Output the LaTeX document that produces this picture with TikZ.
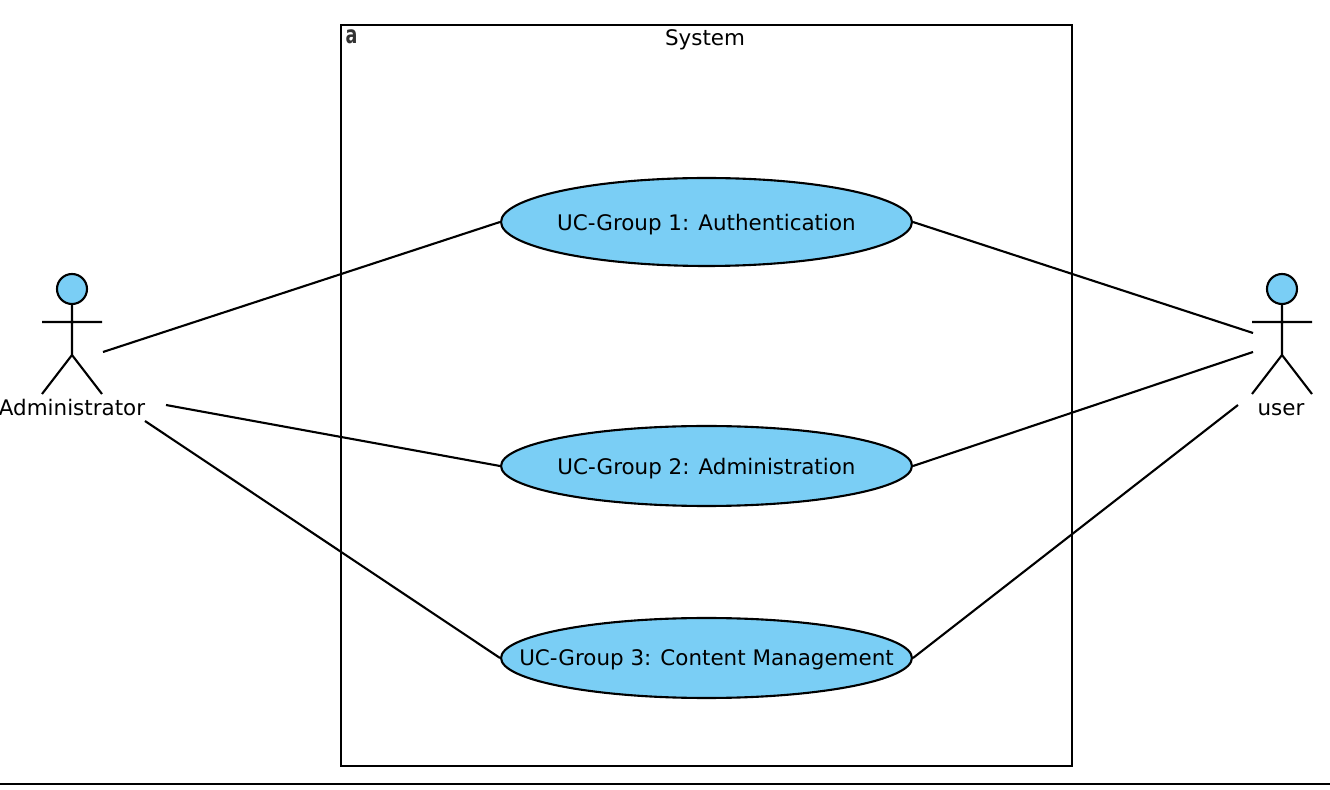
\documentclass[tikz,border=0pt]{standalone}
\usepackage{fontspec}
\setmainfont{DejaVu Sans}
\usetikzlibrary{shapes.geometric}
\definecolor{ucblue}{HTML}{7ACEF5}

\tikzset{
    actorname/.style={font=\fontsize{12.2}{14}\selectfont, inner sep=0pt},
    usecase/.style={actorname, draw, ellipse, fill=ucblue, inner xsep=-1cm, inner ysep=0pt, minimum width=8.22cm, text depth=0pt},
    umlline/.style={line width=1.2pt}
}

\begin{document}
\begin{tikzpicture}[x=0.02cm, y=-0.02cm, umlline]
        \useasboundingbox (0, 0) rectangle (1330, 790);

        \node[draw, minimum width=14.62cm, minimum height=14.82cm, inner sep=0pt] (system) at (706.5, 395.5) {};
        \node[actorname, anchor=base] (systemtitle) at (705, 46) {System};
        \node[inner sep=0pt, text=black!80, font=\fontsize{10}{12}\selectfont\bfseries] (systemmark) at (351.5, 36.5) {\scalebox{1}[1.4]{a}};

        \node[usecase, minimum height=1.76cm] (uc1) at (706.5, 222) {UC-Group 1: Authentication};
        \node[usecase, minimum height=1.6cm] (uc2) at (706.5, 466) {UC-Group 2: Administration};
        \node[usecase, minimum height=1.6cm] (uc3) at (706.5, 658) {UC-Group 3: Content Management};

        % stick figures
        \foreach \name/\cx in {admin/72, user/1282} {
            \draw (\cx, 304) -- (\cx, 355) (\cx - 30, 322) -- (\cx + 30, 322)
                (\cx - 30, 394) -- (\cx, 355) -- (\cx + 30, 394);
            \draw[fill=ucblue] (\cx, 289) circle[radius=15];
        }
        \node[actorname, anchor=base] (adminname) at (72, 415.5) {Administrator};
        \node[actorname, anchor=base] (username) at (1281, 415.5) {user};

        \coordinate (A1) at (103, 352);
        \coordinate (A2) at (166, 405);
        \coordinate (A3) at (145, 421);
        \coordinate (U1) at (1253, 333);
        \coordinate (U2) at (1253, 352);
        \coordinate (U3) at (1238, 405);

        \draw (A1) -- (uc1.west);
        \draw (A2) -- (uc2.west);
        \draw (A3) -- (uc3.west);
        \draw (uc1.east) -- (U1);
        \draw (uc2.east) -- (U2);
        \draw (uc3.east) -- (U3);

        \draw (0, 784) -- (1330, 784);
    \end{tikzpicture}
\end{document}
